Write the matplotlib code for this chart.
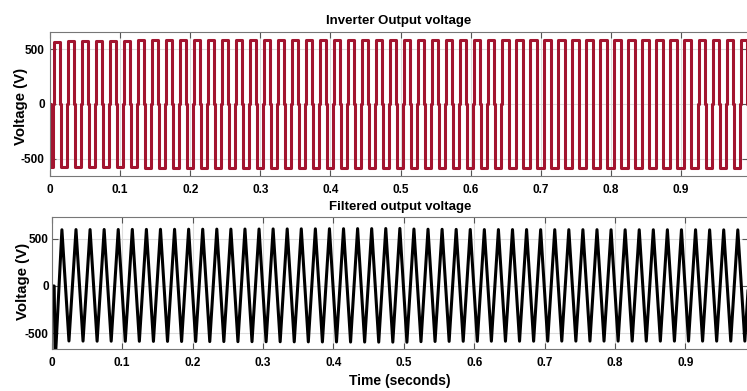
#Inverter output and filtered output voltage (two stacked panels)

import numpy as np
import matplotlib
matplotlib.use('Agg')
import matplotlib.pyplot as plt

#Step1. data (50 Hz, one value per cycle)
period = 0.02
n_cycles = 50

#inverter pulse levels, positive and negative, per cycle (V)
inv_pos = [572, 575, 576, 578, 580, 582, 584, 585, 586, 587,
           588, 588, 589, 589, 590, 590, 590, 591, 591, 591,
           591, 590, 590, 590, 591, 590, 590, 589, 590, 590,
           590, 589, 590, 590, 590, 590, 590, 590, 589, 590,
           590, 590, 590, 590, 590, 590, 590, 590, 590, 590]
inv_neg = [-578, -578, -579, -580, -581, -582, -583, -584, -585, -585,
           -586, -586, -587, -587, -587, -588, -588, -588, -588, -588,
           -588, -588, -588, -588, -588, -588, -588, -588, -588, -588,
           -588, -588, -588, -588, -588, -588, -588, -588, -588, -588,
           -588, -588, -588, -588, -588, -588, -588, -588, -588, -588]
#pulse edges inside one cycle (s)
pos_on, pos_off = 0.005, 0.014
neg_on, neg_off = 0.015, 0.024

#filtered voltage: start-up points, then peak and trough of each cycle
out_start_t = [0.0, 0.0035, 0.0050]
out_start_v = [0, 0, -800]
peak_t0, trough_t0 = 0.0145, 0.0245
out_peak = [598, 600, 600, 601, 601, 602, 602, 603, 603, 604,
            604, 605, 605, 606, 606, 607, 607, 608, 608, 609,
            609, 610, 610, 611, 612, 606, 604, 603, 602, 601,
            600, 600, 600, 600, 599, 599, 599, 599, 599, 598,
            598, 598, 598, 598, 598, 598, 597, 597, 597, 597]
out_trough = [-585, -586, -587, -587, -588, -588, -589, -589, -590, -590,
              -591, -591, -592, -592, -593, -593, -594, -594, -595, -595,
              -596, -596, -597, -597, -598, -592, -590, -589, -588, -588,
              -587, -587, -587, -587, -586, -586, -586, -586, -586, -586,
              -586, -586, -586, -586, -586, -586, -586, -586, -586, -586]

#Step2. build the waveforms from the per-cycle values
inv_t = [0.0, 0.0, 0.004, 0.004]
inv_v = [0, inv_neg[0], inv_neg[0], 0]
for k in range(n_cycles):
    base = k * period
    inv_t += [base + pos_on, base + pos_on, base + pos_off, base + pos_off,
              base + neg_on, base + neg_on, base + neg_off, base + neg_off]
    inv_v += [0, inv_pos[k], inv_pos[k], 0, 0, inv_neg[k], inv_neg[k], 0]

out_t = list(out_start_t)
out_v = list(out_start_v)
for k in range(n_cycles):
    out_t += [peak_t0 + k * period, trough_t0 + k * period]
    out_v += [out_peak[k], out_trough[k]]

#Step3. figure
fig = plt.figure(figsize=(7.47, 3.91), dpi=100)
plt.rcParams['font.family'] = ['Liberation Sans', 'DejaVu Sans']
plt.rcParams['font.weight'] = 'bold'

xticks = [0, 0.1, 0.2, 0.3, 0.4, 0.5, 0.6, 0.7, 0.8, 0.9]
xlabels = ['0', '0.1', '0.2', '0.3', '0.4', '0.5', '0.6', '0.7', '0.8', '0.9']
yticks = [-500, 0, 500]
ylabels = ['-500', '0', '500']


def style_axes(ax, ypad):
    ax.set_xticks(xticks)
    ax.set_xticklabels(xlabels)
    ax.set_yticks(yticks)
    ax.set_yticklabels(ylabels)
    ax.tick_params(direction='in', top=True, right=True, length=4,
                   width=0.8, color='#555555', labelsize=8.5, pad=6)
    ax.tick_params(axis='y', pad=ypad)
    for s in ax.spines.values():
        s.set_color('#777777')
        s.set_linewidth(0.8)
    ax.grid(True, color='#dddddd', linewidth=0.8)
    ax.set_axisbelow(True)


#top panel: inverter output
ax1 = fig.add_axes([50 / 747, 1 - 176 / 391, 698 / 747, 144 / 391])
ax1.plot(inv_t, inv_v, color='#A2142F', linewidth=2.2)
ax1.set_xlim(0, 0.9956)
ax1.set_ylim(-660, 660)
style_axes(ax1, 3.8)
ax1.set_ylabel('Voltage (V)', fontsize=10.8, fontweight='bold')
ax1.yaxis.set_label_coords(-0.031, 0.486)
ax1.set_title('Inverter Output voltage', fontsize=9.5, fontweight='bold', pad=6)

#bottom panel: filtered output
ax2 = fig.add_axes([51.7 / 747, 1 - 349 / 391, 696.3 / 747, 132.3 / 391])
ax2.plot(out_t, out_v, color='black', linewidth=2.2, solid_joinstyle='round')
ax2.set_xlim(0, 0.989)
ax2.set_ylim(-670, 737)
style_axes(ax2, 2.2)
ax2.set_ylabel('Voltage (V)', fontsize=10.8, fontweight='bold')
ax2.yaxis.set_label_coords(-0.031, 0.51)
ax2.set_title('Filtered output voltage', fontsize=9.5, fontweight='bold', pad=5)
ax2.set_xlabel('Time (seconds)', fontsize=10, fontweight='bold', labelpad=3)

plt.savefig('out.png', dpi=100)
